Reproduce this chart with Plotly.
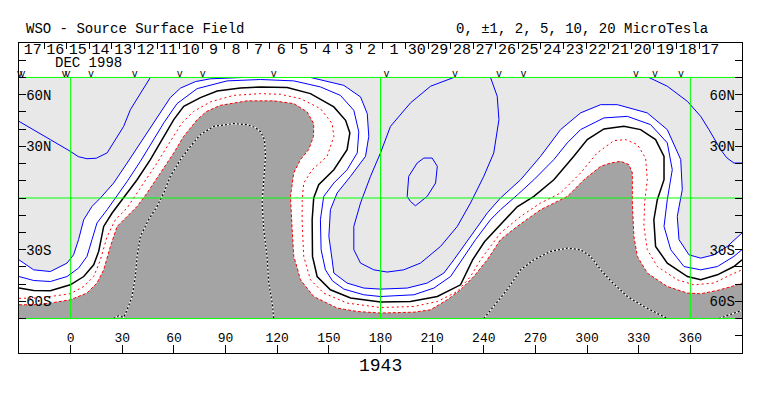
import plotly.graph_objects as go

FONT = "Liberation Mono, DejaVu Sans Mono, monospace"
BLUE, RED, GREEN = "#0000ff", "#ff0000", "#00ff00"
LIGHT, DARK = "#e8e8e8", "#a4a4a4"

LON_MIN, LON_MAX = -30, 390
LAT_MIN, LAT_MAX = -70, 70

# ---------------- contour lines (Carrington lon, lat) ----------------
neutral_line = [(-30,-52.3),(-21.5,-53.7),(-11.8,-53.9),(-0.2,-50.4),(7.6,-45.6),(13.4,-38.8),(16.3,-31.0),
    (19.2,-16.5),(24.1,-8.7),(30.8,0),(38.6,10.6),(46.3,22.3),(54.1,35.8),(59.9,45.5),(65.7,53.2),(75.4,58.3),
    (85.1,62.1),(98.6,63.9),(110.3,64.5),(125.8,64.1),(139.3,60.6),(152.9,52.9),(159.7,45.1),(162.2,37.8),
    (160.6,28.1),(152.9,16.4),(144.1,7.7),(141.2,0),(140.3,-12.6),(140.5,-33.9),(143.2,-45.6),(150.9,-53.3),
    (162.6,-58.1),(180.0,-60.4),(197.4,-60.1),(213.0,-57.2),(226.5,-50.4),(233.5,-35.9),(240.4,-25.4),
    (247.8,-17.3),(255.6,-9.1),(259.4,-5.1),(269.1,0.9),(280.7,10.6),(292.3,24.2),(300.1,33.9),(309.8,40.1),
    (321.4,41.6),(331.1,39.7),(339.8,33.9),(344.7,24.2),(344.7,10.6),(340.8,-1.0),(338.8,-12.6),(339.8,-28.1),
    (346.6,-37.8),(358.3,-45.6),(366.0,-47.5),(375.7,-44.6),(385.3,-39.8),(390,-35.9)]

pos1_line = [(-30,-45.6),(-21.5,-47.9),(-11.8,-48.5),(-2.1,-45.6),(4.6,-40.7),(9.5,-33.9),(12.4,-24.2),
    (15.3,-14.5),(21.2,-6.8),(26.0,0),(32.8,9.6),(40.5,21.3),(48.2,33.9),(54.1,43.6),(61.8,54.8),(73.5,63.5),
    (90.9,68.0),(110.3,68.8),(129.6,68.0),(145.1,64.5),(156.7,59.6),(164.5,50.9),(167.4,38.4),(166.5,26.2),
    (160.6,16.4),(152.9,8.7),(147.0,0.9),(145.1,-12.6),(145.5,-30.0),(148.0,-41.7),(152.1,-48.1),(158.7,-52.9),
    (170.3,-56.2),(180.0,-57.2),(199.4,-56.2),(211.0,-52.3),(220.7,-45.6),(227.5,-35.9),(235.2,-24.2),
    (243.9,-12.6),(249.7,-6.8),(259.6,1.9),(269.1,10.6),(280.7,22.3),(288.5,32.0),(296.2,39.7),(309.8,46.5),
    (323.4,47.4),(336.9,42.6),(346.6,32.0),(349.5,16.4),(346.6,-1.0),(344.7,-16.5),(348.6,-30.0),(356.3,-39.8),
    (366.0,-41.7),(375.7,-39.8),(385.3,-33.9),(390,-30.0)]

pos2_west = [(-30,-35.9),(-21.5,-41.7),(-11.8,-42.7),(-2.1,-37.8),(1.7,-33.0),(4.6,-24.2),(7.6,-12.6),
    (12.4,-4.9),(17.3,0),(25.0,8.7),(32.8,20.3),(40.5,32.0),(48.2,44.3),(52.1,49.6),(57.9,58.3),(63.8,63.8),
    (72.5,67.6),(81.2,69.2),(91.0,69.8),(100.5,70)]

pos2_east = [(139.3,70),(158.7,65.4),(168.4,58.7),(172.3,49.0),(173.2,35.8),(171.3,24.2),(162.6,12.6),
    (154.8,2.9),(150.9,-6.8),(150.0,-22.3),(151.9,-35.9),(152.9,-43.6),(160.6,-49.4),(170.3,-52.3),(180.0,-52.9),
    (195.5,-52.3),(207.1,-49.4),(216.8,-43.6),(222.6,-35.9),(232.3,-22.5),(242.2,-8.5),(249.7,0),(261.4,10.6),
    (273.0,24.2),(284.6,39.7),(296.2,49.4),(307.9,54.2),(317.6,54.2),(335.0,49.4),(346.6,39.7),(354.4,22.3),
    (355.3,4.8),(352.4,-10.7),(353.4,-24.2),(359.2,-33.0),(366.0,-34.9),(373.7,-33.0),(381.5,-28.1),(390,-20.3)]

neg1_line = [(-30,-58.2),(-21.5,-58.2),(-11.8,-57.2),(-0.2,-55.6),(7.6,-51.4),(13.4,-45.6),(17.3,-35.9),
    (21.2,-22.3),(26.0,-12.6),(32.8,-5.8),(36.6,0),(42.4,8.7),(50.2,20.3),(57.9,32.9),(64.7,43.6),(71.5,50.3),
    (81.2,55.8),(94.7,59.6),(110.3,60.6),(121.9,60.2),(133.5,57.7),(145.1,51.9),(151.9,43.2),(152.9,35.8),
    (149.0,24.2),(140.3,16.4),(135.4,8.7),(134.5,-1.0),(134.5,-14.5),(135.4,-33.9),(139.3,-47.5),(147.0,-55.2),
    (160.6,-61.0),(180.0,-63.6),(199.4,-63.0),(213.0,-60.1),(224.6,-54.3),(232.3,-45.6),(238.1,-35.9),
    (249.7,-20.3),(261.4,-10.7),(273.0,-2.9),(284.6,2.9),(296.2,14.5),(305.9,26.2),(315.6,33.3),(322.4,33.9),
    (329.2,31.0),(334.0,23.2),(335.0,10.6),(333.4,-2.9),(333.0,-16.5),(335.0,-30.0),(340.8,-39.8),(352.4,-47.5),
    (362.1,-50.4),(373.7,-49.4),(383.4,-44.6),(390,-41.7)]

neg2_line = [(-30,-62.0),(-21.5,-62.0),(-11.8,-61.0),(-0.2,-59.1),(9.5,-55.2),(15.3,-49.4),(19.2,-41.7),
    (23.1,-28.1),(27.0,-16.5),(32.8,-10.7),(38.6,-4.9),(44.4,2.9),(52.1,14.5),(59.9,26.2),(65.7,35.8),(73.5,45.5),
    (78.9,50.2),(87.0,53.8),(102.5,56.4),(118.0,56.4),(129.6,54.8),(137.4,50.0),(141.2,43.2),(141.1,35.8),
    (138.3,28.1),(133.5,22.3),(129.6,14.5),(127.7,0.9),(128.7,-18.4),(129.6,-33.9),(131.6,-40.5),(133.5,-47.5),
    (141.2,-57.2),(154.8,-63.9),(166.5,-65.9),(180.0,-66.8),(199.4,-66.3),(209.1,-64.9),(218.8,-59.1),
    (226.5,-53.3),(234.2,-45.6),(242.0,-35.9),(249.7,-24.2),(259.4,-16.5),(273.0,-6.8),(288.5,0.9),(298.2,10.6),
    (307.9,18.4),(313.7,20.3),(319.5,21.3),(324.3,19.4),(326.3,14.5),(326.3,-2.9),(327.2,-22.3),(329.2,-33.9),
    (335.0,-43.6),(346.6,-51.4),(358.3,-55.2),(366.0,-55.6),(375.7,-53.7),(385.3,-51.0),(390,-49.4)]

pos5_west = [(46.3,70),(40.5,61.0),(34.7,51.3),(30.8,41.6),(26.0,33.9),(21.2,26.2),(14.9,23.1),(9.5,22.8),
    (4.5,24.0),(-0.2,27.1),(-11.8,33.9),(-21.5,39.7),(-30,44.5)]
pos5_east = [(335.9,70),(346.6,64.9),(358.3,56.1),(366.0,47.4),(370.8,39.7),(374.1,33.9),(377.6,28.1),
    (381.1,23.4),(385.3,20.3),(390,20.3)]
pos5_middle = [(222.6,70),(209.1,64.9),(197.4,55.2),(185.8,41.6),(180.0,26.2),(174.2,12.6),(168.4,-2.9),
    (164.5,-16.5),(164.5,-30.0),(168.4,-37.8),(176.1,-41.7),(183.9,-43.0),(193.5,-41.7),(203.2,-37.8),
    (214.9,-28.1),(224.6,-16.5),(232.3,-2.9),(240.0,12.6),(245.8,26.2),(248.8,45.5),(247.8,59.1),(243.9,70)]
pos10_loop = [(195.5,0.9),(196.4,12.6),(201.3,20.3),(205.2,23.2),(210.0,23.2),(213.0,18.4),(212.0,8.7),
    (207.1,0.9),(200.3,-4.5),(197.4,-2.0),(195.5,0.9)]

neg5_west = [(25.0,-70),(27.7,-68.4),(30.8,-69.3),(32.8,-64.9),(35.7,-57.2),(37.6,-45.6),(38.6,-33.9),
    (40.5,-22.3),(45.3,-12.6),(50.2,-4.9),(54.1,2.9),(57.9,12.6),(63.8,22.3),(69.6,30.0),(75.4,36.8),(83.1,41.6),
    (94.7,43.2),(102.5,42.6),(107.3,40.9),(110.3,38.5),(112.6,33.9),(113.2,24.2),(112.2,10.6),(111.2,-2.9),
    (112.2,-18.4),(114.1,-33.9),(115.1,-49.4),(117.1,-61.0),(118.0,-70)]
neg5_east = [(240.0,-70),(246.8,-62.0),(252.6,-54.5),(257.5,-47.5),(261.4,-41.7),(269.1,-35.9),(278.8,-31.0),
    (288.5,-29.1),(296.2,-30.0),(302.0,-33.9),(307.9,-41.7),(313.7,-48.1),(323.4,-57.2),(333.0,-63.0),
    (338.8,-65.9),(346.6,-70)]
neg5_edge = [(376.6,-70),(385.3,-66.8),(390,-65.2)]

# ---------------- axes / labels ----------------
lon_ticks = [0, 30, 60, 90, 120, 150, 180, 210, 240, 270, 300, 330, 360]
lat_ticks = [-80, -70, -60, -50, -40, -30, -20, -10, 0, 10, 20, 30, 40, 50, 60, 70, 80]
lat_labels = ["", "", "60S", "", "", "30S", "", "", "", "", "", "30N", "", "", "60N", "", ""]
grid_lons = [0, 180, 360]
grid_lats = [-70, 0, 70]
day_separators = [-15.4, -2.3, 10.8, 24.0, 37.1, 50.2, 63.3, 76.4, 89.6, 102.7, 115.8, 128.9, 142.0, 155.2,
    168.3, 181.4, 194.5, 207.6, 220.8, 233.9, 247.0, 260.1, 273.2, 286.4, 299.5, 312.6, 325.7, 338.8, 352.0,
    365.1, 378.2]
day_label_lons = [-22.0, -8.9, 4.2, 17.4, 30.5, 43.6, 56.7, 69.8, 83.0, 96.1, 109.2, 122.3, 135.4, 148.6,
    161.7, 174.8, 187.9, 201.0, 214.2, 227.3, 240.4, 253.5, 266.6, 279.8, 292.9, 306.0, 319.1, 332.2, 345.4,
    358.5, 371.6]
day_labels = ["17", "16", "15", "14", "13", "12", "11", "10", "9", "8", "7", "6", "5", "4", "3", "2", "1",
    "30", "29", "28", "27", "26", "25", "24", "23", "22", "21", "20", "19", "18", "17"]
obs_marker_lons = [-29.6, -27.9, -3.5, -1.8, 11.9, 37.2, 63.4, 76.7, 118.0, 183.5, 223.3, 248.8, 263.1,
    328.5, 339.5, 354.6]
rotation_label = "1943"
month_label = "DEC 1998"


def xy(pts):
    return [p[0] for p in pts], [p[1] for p in pts]


fig = go.Figure()

# shaded regions
for pts, col in [(pos2_west + [(LON_MIN, LAT_MAX)], LIGHT),
                 (pos2_east + [(LON_MAX, LAT_MAX)], LIGHT),
                 (neg2_line + [(LON_MAX, LAT_MIN), (LON_MIN, LAT_MIN)], DARK)]:
    x, y = xy(pts)
    fig.add_trace(go.Scatter(x=x, y=y, mode="lines", fill="toself", fillcolor=col,
                             line=dict(width=0, color=col), hoverinfo="skip"))

def add_line(pts, color, width=1.0, dash="solid"):
    x, y = xy(pts)
    fig.add_trace(go.Scatter(x=x, y=y, mode="lines", line=dict(color=color, width=width, dash=dash),
                             hoverinfo="skip"))

for pts in [pos1_line, pos2_west, pos2_east, pos5_west, pos5_east, pos5_middle, pos10_loop]:
    add_line(pts, BLUE, 1.0)
add_line(neutral_line, "black", 1.5)
add_line(neg1_line, RED, 1.0, "2px,3px")
add_line(neg2_line, RED, 1.0, "3px,2px")
for pts in [neg5_west, neg5_east, neg5_edge]:
    add_line(pts, "white", 1.2)
    add_line(pts, "black", 1.2, "2px,2px")

# green reference grid
for la in grid_lats:
    fig.add_trace(go.Scatter(x=[LON_MIN, LON_MAX], y=[la, la], mode="lines",
                             line=dict(color=GREEN, width=1), hoverinfo="skip"))
for lo in grid_lons:
    fig.add_trace(go.Scatter(x=[lo, lo], y=[LAT_MIN, LAT_MAX], mode="lines",
                             line=dict(color=GREEN, width=1), hoverinfo="skip"))

# day-of-month strip and observation markers
fig.add_trace(go.Scatter(x=day_label_lons, y=[85.6] * len(day_label_lons), mode="text", text=day_labels,
                         textfont=dict(family=FONT, size=15, color="black"), cliponaxis=False,
                         hoverinfo="skip"))
fig.add_trace(go.Scatter(x=obs_marker_lons, y=[71.9] * len(obs_marker_lons), mode="text",
                         text=["v"] * len(obs_marker_lons),
                         textfont=dict(family=FONT, size=10, color="black"), cliponaxis=False,
                         hoverinfo="skip"))
# dummy trace for secondary axes
fig.add_trace(go.Scatter(x=[None], y=[None], xaxis="x2", yaxis="y2", showlegend=False))

axis_font = dict(family=FONT, color="black")
fig.update_layout(
    width=755, height=388,
    margin=dict(l=11, r=21, t=35, b=43, autoexpand=False),
    paper_bgcolor="white", plot_bgcolor="white",
    showlegend=False,
    xaxis=dict(range=[LON_MIN, LON_MAX], showline=True, mirror=True, linecolor="black", linewidth=1,
               ticks="inside", ticklen=8, tickcolor="black", tickvals=lon_ticks,
               ticktext=[str(v) for v in lon_ticks], ticklabelposition="inside",
               tickfont=dict(size=13, **axis_font), showgrid=False, zeroline=False, automargin=False),
    xaxis2=dict(range=[LON_MIN, LON_MAX], overlaying="x", side="top", ticks="inside", ticklen=6,
                tickcolor="black", tickvals=day_separators, showticklabels=False, showgrid=False,
                zeroline=False, showline=False, automargin=False),
    yaxis=dict(range=[-90, 90], showline=True, mirror=True, linecolor="black", linewidth=1,
               ticks="inside", ticklen=7, tickcolor="black", tickvals=lat_ticks, ticktext=lat_labels,
               ticklabelposition="inside", tickfont=dict(size=14, **axis_font), showgrid=False,
               zeroline=False, automargin=False),
    yaxis2=dict(range=[-90, 90], overlaying="y", side="right", ticks="inside", ticklen=7,
                tickcolor="black", tickvals=lat_ticks, ticktext=lat_labels, ticklabelposition="inside",
                tickfont=dict(size=14, **axis_font), showgrid=False, zeroline=False, showline=False,
                automargin=False),
    annotations=[
        dict(text="WSO - Source Surface Field", xref="paper", yref="paper", x=0.0069, y=1.045,
             xanchor="left", yanchor="middle", showarrow=False, font=dict(size=14, **axis_font)),
        dict(text="0, ±1, 2, 5, 10, 20 MicroTesla", xref="paper", yref="paper", x=0.9557, y=1.045,
             xanchor="right", yanchor="middle", showarrow=False, font=dict(size=14, **axis_font)),
        dict(text=month_label, xref="x", yref="y", x=10.3, y=78.5, xanchor="center", yanchor="middle",
             showarrow=False, font=dict(size=14, **axis_font)),
        dict(text=rotation_label, xref="x", yref="paper", x=180, y=-0.042, xanchor="center",
             yanchor="middle", showarrow=False, font=dict(size=18, **axis_font)),
    ],
)

fig.write_html("out.html")
